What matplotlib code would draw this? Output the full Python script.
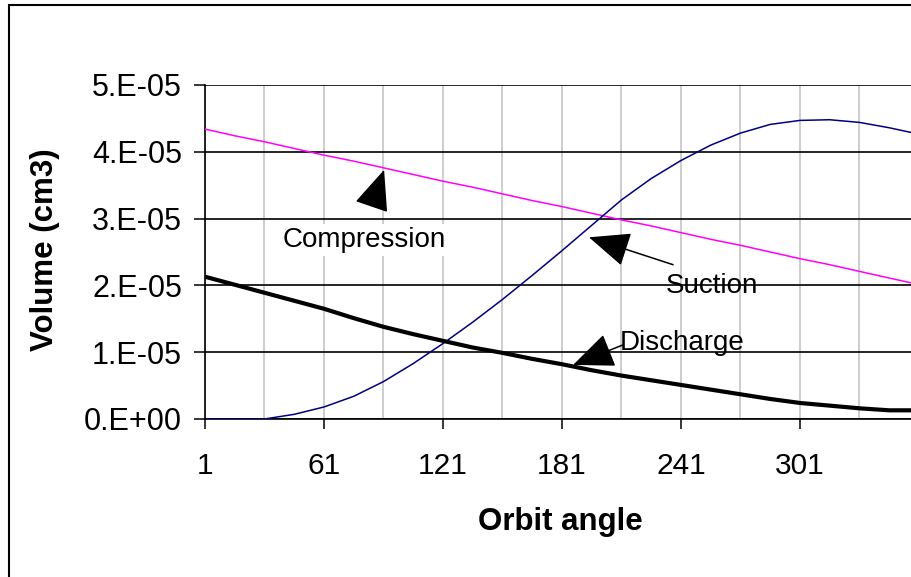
import matplotlib.pyplot as plt
from matplotlib.patches import Rectangle

plt.rcParams['font.family'] = ['Liberation Sans', 'DejaVu Sans']

# Orbit angle (deg) and chamber volumes (units of 1E-05 cm3)
angle = [1, 16, 31, 46, 61, 76, 91, 106, 121, 136, 151, 166, 181, 196, 211,
         226, 241, 256, 271, 286, 301, 316, 331, 346, 360]
compression = [4.34, 4.24, 4.15, 4.05, 3.95, 3.86, 3.76, 3.66, 3.56, 3.47, 3.37,
               3.27, 3.18, 3.08, 2.98, 2.89, 2.79, 2.69, 2.60, 2.50, 2.40, 2.31,
               2.21, 2.11, 2.02]
suction = [0.0, 0.0, 0.0, 0.07, 0.18, 0.34, 0.56, 0.83, 1.13, 1.45, 1.79, 2.15,
           2.52, 2.90, 3.28, 3.60, 3.87, 4.10, 4.28, 4.41, 4.47, 4.48, 4.44,
           4.36, 4.27]
discharge = [2.13, 2.01, 1.89, 1.77, 1.65, 1.51, 1.38, 1.27, 1.17, 1.07, 0.99,
             0.90, 0.82, 0.73, 0.65, 0.58, 0.51, 0.44, 0.37, 0.30, 0.24, 0.20,
             0.16, 0.13, 0.13]

xticks = [1, 61, 121, 181, 241, 301]
xminor = [31, 91, 151, 211, 271, 331]
yticks = [0, 1, 2, 3, 4, 5]
ytick_labels = ['0.E+00', '1.E-05', '2.E-05', '3.E-05', '4.E-05', '5.E-05']

fig = plt.figure(figsize=(9.11, 5.77), dpi=100)
ax = fig.add_axes([205 / 911, 158 / 577, 712 / 911, 334 / 577])

ax.plot(angle, compression, color='#FF00FF', lw=1.1, zorder=3)
ax.plot(angle, suction, color='#000080', lw=1.1, zorder=3)
ax.plot(angle, discharge, color='black', lw=3.0, zorder=3)

ax.set_xlim(1, 360)
ax.set_ylim(0, 5)
ax.set_xticks(xticks)
ax.set_xticklabels([str(t) for t in xticks])
ax.set_xticks(xminor, minor=True)
ax.set_yticks(yticks)
ax.set_yticklabels(ytick_labels)

ax.set_axisbelow(True)
ax.grid(axis='x', which='both', color='#C0C0C0', lw=1.1)
ax.grid(axis='y', which='major', color='black', lw=1.2)

for s in ['top', 'right']:
    ax.spines[s].set_visible(False)
ax.spines['left'].set_linewidth(1.2)
ax.spines['bottom'].set_linewidth(1.2)

ax.tick_params(axis='x', which='major', direction='out', length=7.5, width=1.1,
               pad=16, labelsize=21.5)
ax.tick_params(axis='x', which='minor', length=0)
ax.tick_params(axis='y', direction='out', length=8, width=1.1, pad=8.5,
               labelsize=22)

# labels with arrows
arrow = dict(arrowstyle='-|>,head_length=1.3,head_width=0.55', color='black',
             lw=1.1, shrinkA=0, shrinkB=0, mutation_scale=20)
ax.annotate('', xy=(91.3, 3.73), xytext=(85.2, 3.20), arrowprops=arrow, zorder=4)
ax.annotate('', xy=(194.6, 2.72), xytext=(237.0, 2.31), arrowprops=arrow, zorder=4)
ax.annotate('', xy=(186.6, 0.81), xytext=(211.8, 1.11), arrowprops=arrow, zorder=4)

ax.text(81.5, (419 - 247) / 66.8, 'Compression', fontsize=20, ha='center',
        va='baseline', zorder=2,
        bbox=dict(facecolor='white', edgecolor='none', pad=2))
ax.text(256.5, (419 - 293) / 66.8, 'Suction', fontsize=20, ha='center',
        va='baseline', zorder=5)
ax.text(241.5, (419 - 350) / 66.8, 'Discharge', fontsize=20, ha='center',
        va='baseline', zorder=5)

fig.text(45 / 911, 1 - 250 / 577, 'Volume (cm3)', rotation=90, fontsize=22.5,
         fontweight='bold', ha='center', va='center')
fig.text(560 / 911, 1 - 530 / 577, 'Orbit angle', fontsize=22.5,
         fontweight='bold', ha='center', va='baseline')

# outer chart frame (cut off at right and bottom)
fig.add_artist(Rectangle((8.7 / 911, -0.1), 1.2, (577 - 5) / 577 + 0.1,
                         transform=fig.transFigure, fill=False, lw=1.5,
                         ec='black'))

fig.savefig('out.png', dpi=100)
